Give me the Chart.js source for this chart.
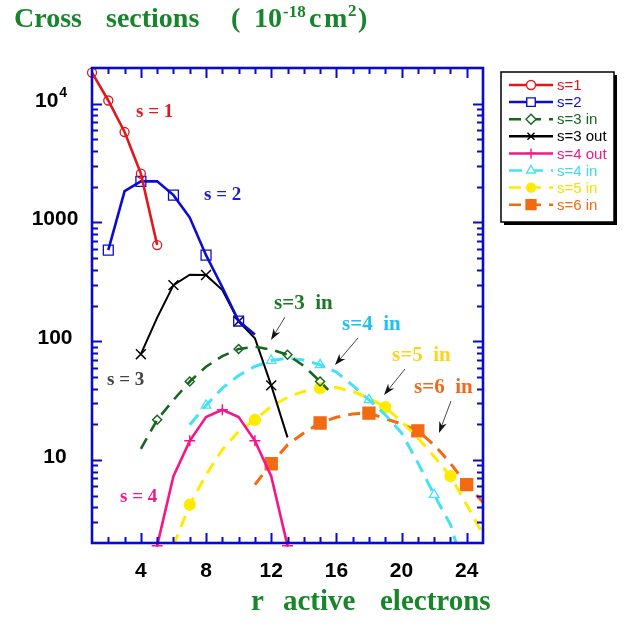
<!DOCTYPE html>
<html>
<head>
<meta charset="utf-8">
<title>Cross sections</title>
<script src="https://cdn.jsdelivr.net/npm/chart.js@4.4.1/dist/chart.umd.min.js"></script>
<style>
    html, body { margin: 0; padding: 0; background: #fff; }
    #chart { display: block; }
</style>
</head>
<body>
<canvas id="chart" width="628" height="630"></canvas>
<script>
// ===== data =====
// r = number of active electrons, values in 10^-18 cm^2
const rS1 = [1, 2, 3, 4, 5];
const valS1 = [18300, 10650, 5780, 2580, 646];
const markS1 = [1, 2, 3, 4, 5];

const rS2 = [2, 3, 4, 5, 6, 7, 8, 9, 10, 11];
const valS2 = [585, 1840, 2220, 2220, 1700, 1100, 531, 285, 148, 114];
const markS2 = [2, 4, 6, 8, 10];

const rS3in = [4, 5, 6, 7, 8, 9, 10, 11, 12, 13, 14, 15, 15.5];
const valS3in = [12.4, 21.8, 32, 45.8, 61, 75, 86, 90, 85, 77, 62, 45.8, 39];
const markS3in = [5, 7, 10, 13, 15];

const rS3out = [4, 5, 6, 7, 8, 9, 10, 11, 12, 13];
const valS3out = [77.8, 158, 297, 363, 361, 270, 147, 106, 42.5, 15.5];
const markS3out = [4, 6, 8, 10, 12];

const rS4out = [5, 6, 7, 8, 9, 10, 11, 12, 13];
const valS4out = [1.9, 7.3, 14.5, 23, 26.5, 23, 14.5, 7.3, 1.9];
const markS4out = [5, 7, 9, 11, 13];

const rS4in = [7, 8, 9, 10, 11, 12, 13, 14, 15, 16, 17, 18, 19, 20, 21, 22, 23, 23.4];
const valS4in = [19.8, 28.8, 40.3, 51.5, 61.3, 68.8, 72, 69.5, 63.3, 55, 42.5, 32.1, 24, 16.9, 9.5, 5.1, 2.86, 1.9];
const markS4in = [8, 12, 15, 18, 22];

const rS5in = [6, 7, 8, 9, 10, 11, 12, 13, 14, 15, 16, 17, 18, 19, 20, 21, 22, 23, 24, 25];
const valS5in = [1.9, 4.2, 7.5, 12.2, 17.4, 21.8, 28.3, 33.7, 37.8, 40.3, 40.8, 37.8, 33.2, 27.9, 21.1, 15.3, 10.7, 7.3, 4.2, 2.36];
const markS5in = [7, 11, 15, 19, 23];

const rS6in = [11, 12, 13, 14, 15, 16, 17, 18, 19, 20, 21, 22, 23, 24, 25];
const valS6in = [6.2, 9.3, 13.4, 16.9, 20.5, 22.9, 24.4, 24.8, 22.3, 20.1, 17.6, 13.4, 9.4, 6.2, 4.4];
const markS6in = [12, 15, 18, 21, 24];

// axes
const xMin = 1, xMax = 25;
const yMin = 2, yMax = 20000;
const xTicks = [4, 8, 12, 16, 20, 24];
const yTicks = [10, 100, 1000, 10000];
const yTickLabels = ['10', '100', '1000', '10'];

const AXIS_BLUE = '#0a0acc';
const TITLE_GREEN = '#17852a';

/**
 * Build one line dataset; markers only where the figure shows them
 */
function series(label, rs, vals, marks, style) {
    return {
        label: label,
        data: rs.map((r, i) => ({ x: r, y: vals[i] })),
        borderColor: style.color,
        borderWidth: style.width || 2.6,
        borderDash: style.dash || [],
        backgroundColor: style.fill || 'rgba(0,0,0,0)',
        pointStyle: style.point,
        pointBorderColor: style.color,
        pointBackgroundColor: style.fill || 'rgba(0,0,0,0)',
        pointBorderWidth: style.pointWidth || 1.3,
        pointRadius: ctx => marks.includes(rs[ctx.dataIndex]) ? style.radius : 0,
        pointHoverRadius: ctx => marks.includes(rs[ctx.dataIndex]) ? style.radius : 0,
        tension: 0,
        fill: false,
        clip: style.clip !== undefined ? style.clip : 0,
        legendText: style.text || style.color
    };
}

const datasets = [
    series('s=1', rS1, valS1, markS1, { color: '#e3161b', point: 'circle', radius: 4.5, clip: 8 }),
    series('s=2', rS2, valS2, markS2, { color: '#0c0cd0', point: 'rect', radius: 7 }),
    series('s=3 in', rS3in, valS3in, markS3in, { color: '#17661f', point: 'rectRot', radius: 4.5, dash: [12, 8], pointWidth: 1.5 }),
    series('s=3 out', rS3out, valS3out, markS3out, { color: '#000000', point: 'crossRot', radius: 7, width: 2, pointWidth: 1.5 }),
    series('s=4 out', rS4out, valS4out, markS4out, { color: '#f5168a', point: 'cross', radius: 5.5, pointWidth: 1.5, clip: { left: 0, top: 0, right: 0, bottom: 4 } }),
    series('s=4 in', rS4in, valS4in, markS4in, { color: '#46e1f5', point: 'triangle', radius: 5.5, dash: [13, 8], width: 3, text: '#3fd8f0' }),
    series('s=5 in', rS5in, valS5in, markS5in, { color: '#ffeb00', point: 'circle', radius: 5.5, dash: [12, 8], width: 3, fill: '#ffeb00', text: '#f8e000' }),
    series('s=6 in', rS6in, valS6in, markS6in, { color: '#f26a12', point: 'rect', radius: 8.5, dash: [12, 8], width: 3, fill: '#f26a12' })
];

// text labels placed on the plot, with arrows for the "in" curves
const curveLabels = [
    { text: 's = 1', x: 136, y: 117, color: '#e3161b', size: 19 },
    { text: 's = 2', x: 204, y: 200, color: '#1a1ad0', size: 19 },
    { text: 's = 3', x: 107, y: 385, color: '#444444', size: 19 },
    { text: 's = 4', x: 120, y: 502, color: '#ee1a88', size: 19 },
    { text: 's=3  in', x: 274, y: 309, color: '#1b7a26', size: 21 },
    { text: 's=4  in', x: 342, y: 330, color: '#1fc2ee', size: 21 },
    { text: 's=5  in', x: 392, y: 361, color: '#ffd21e', size: 21 },
    { text: 's=6  in', x: 414, y: 393, color: '#f06a1e', size: 21 }
];
const arrows = [
    [285, 317, 271, 340],
    [358, 338, 335, 365],
    [405, 369, 384, 395],
    [451, 401, 439, 433]
];

/**
 * Small marker drawer (legend uses it)
 */
function drawMark(ctx, style, x, y, r, stroke, fill) {
    ctx.save();
    ctx.strokeStyle = stroke;
    ctx.fillStyle = fill;
    ctx.lineWidth = 1.4;
    ctx.setLineDash([]);
    ctx.beginPath();
    if (style === 'circle') {
        ctx.arc(x, y, r, 0, Math.PI * 2);
    } else if (style === 'rect') {
        const s = r * Math.SQRT1_2;
        ctx.rect(x - s, y - s, 2 * s, 2 * s);
    } else if (style === 'rectRot') {
        ctx.moveTo(x, y - r); ctx.lineTo(x + r, y); ctx.lineTo(x, y + r); ctx.lineTo(x - r, y); ctx.closePath();
    } else if (style === 'triangle') {
        ctx.moveTo(x, y - r); ctx.lineTo(x + r * 0.87, y + r * 0.5); ctx.lineTo(x - r * 0.87, y + r * 0.5); ctx.closePath();
    } else if (style === 'cross') {
        ctx.moveTo(x - r, y); ctx.lineTo(x + r, y); ctx.moveTo(x, y - r); ctx.lineTo(x, y + r);
    } else if (style === 'crossRot') {
        const s = r * Math.SQRT1_2;
        ctx.moveTo(x - s, y - s); ctx.lineTo(x + s, y + s); ctx.moveTo(x - s, y + s); ctx.lineTo(x + s, y - s);
    }
    if (fill !== 'rgba(0,0,0,0)') ctx.fill();
    ctx.stroke();
    ctx.restore();
}

function drawArrow(ctx, x1, y1, x2, y2) {
    const a = Math.atan2(y2 - y1, x2 - x1);
    ctx.save();
    ctx.strokeStyle = '#333';
    ctx.fillStyle = '#111';
    ctx.lineWidth = 0.9;
    ctx.beginPath();
    ctx.moveTo(x1, y1);
    ctx.lineTo(x2 - Math.cos(a) * 6, y2 - Math.sin(a) * 6);
    ctx.stroke();
    const len = 12, back = 8;
    ctx.beginPath();
    ctx.moveTo(x2, y2);
    ctx.lineTo(x2 - len * Math.cos(a - 0.33), y2 - len * Math.sin(a - 0.33));
    ctx.lineTo(x2 - back * Math.cos(a), y2 - back * Math.sin(a));
    ctx.lineTo(x2 - len * Math.cos(a + 0.33), y2 - len * Math.sin(a + 0.33));
    ctx.closePath();
    ctx.fill();
    ctx.restore();
}

/**
 * Frame, ticks, labels, titles and legend
 */
const decorPlugin = {
    id: 'decor',
    afterDatasetsDraw(chart) {
        const ctx = chart.ctx;
        const area = chart.chartArea;
        const xs = chart.scales.x;
        const ys = chart.scales.y;

        ctx.save();
        // ticks on all four sides, pointing in
        ctx.strokeStyle = AXIS_BLUE;
        ctx.lineWidth = 2;
        ctx.beginPath();
        for (let r = xMin + 1; r < xMax; r++) {
            const px = Math.round(xs.getPixelForValue(r)) + 0.5;
            const len = xTicks.includes(r) ? 10 : 6;
            ctx.moveTo(px, area.bottom); ctx.lineTo(px, area.bottom - len);
            ctx.moveTo(px, area.top); ctx.lineTo(px, area.top + len);
        }
        for (let d = 1; d <= 10000; d *= 10) {
            for (let k = 1; k <= 9; k++) {
                const v = k * d;
                if (v <= yMin || v >= yMax) continue;
                const py = Math.round(ys.getPixelForValue(v)) + 0.5;
                const len = k === 1 ? 10 : 6;
                ctx.moveTo(area.left, py); ctx.lineTo(area.left + len, py);
                ctx.moveTo(area.right, py); ctx.lineTo(area.right - len, py);
            }
        }
        ctx.stroke();

        // frame
        ctx.lineWidth = 2.6;
        ctx.strokeRect(area.left, area.top, area.right - area.left, area.bottom - area.top);

        // tick labels
        ctx.fillStyle = '#000';
        ctx.font = 'bold 21px "Liberation Sans", Arial, sans-serif';
        ctx.textAlign = 'center';
        ctx.textBaseline = 'alphabetic';
        xTicks.forEach(t => {
            ctx.fillText(String(t), xs.getPixelForValue(t), 577);
        });
        yTicks.forEach((t, i) => {
            const py = ys.getPixelForValue(t) + 3;
            if (t === 10000) {
                ctx.textAlign = 'left';
                ctx.font = 'bold 21px "Liberation Sans", Arial, sans-serif';
                ctx.fillText(yTickLabels[i], 35, py);
                const w = ctx.measureText(yTickLabels[i]).width;
                ctx.font = 'bold 14px "Liberation Sans", Arial, sans-serif';
                ctx.fillText('4', 35 + w + 1, py - 10);
                ctx.font = 'bold 21px "Liberation Sans", Arial, sans-serif';
                ctx.textAlign = 'center';
            } else {
                ctx.fillText(yTickLabels[i], 55, py);
            }
        });

        // chart title and axis title
        ctx.fillStyle = TITLE_GREEN;
        ctx.textAlign = 'left';
        const big = 'bold 28px "Liberation Serif", "Times New Roman", serif';
        const sup = 'bold 17px "Liberation Serif", "Times New Roman", serif';
        ctx.font = big;
        ctx.fillText('Cross', 14, 27);
        ctx.fillText('sections', 106, 27);
        ctx.fillText('(', 231, 27);
        ctx.fillText('10', 254, 27);
        ctx.font = sup;
        ctx.fillText('-18', 283, 17);
        ctx.font = big;
        ctx.fillText('c', 309, 27);
        ctx.fillText('m', 324, 27);
        ctx.font = sup;
        ctx.fillText('2', 348, 16);
        ctx.font = big;
        ctx.fillText(')', 358, 27);

        ctx.font = 'bold 29px "Liberation Serif", "Times New Roman", serif';
        ctx.fillText('r', 251, 610);
        ctx.fillText('active', 283, 610);
        ctx.fillText('electrons', 380, 610);

        // curve labels and arrows
        curveLabels.forEach(l => {
            ctx.fillStyle = l.color;
            ctx.font = 'bold ' + l.size + 'px "Liberation Serif", "Times New Roman", serif';
            ctx.fillText(l.text, l.x, l.y);
        });
        arrows.forEach(a => drawArrow(ctx, a[0], a[1], a[2], a[3]));

        // legend box with shadow
        const bx = 501, by = 72, bw = 113, bh = 150;
        ctx.fillStyle = '#000';
        ctx.fillRect(bx + 3, by + 3, bw, bh);
        ctx.fillStyle = '#fff';
        ctx.fillRect(bx, by, bw, bh);
        ctx.strokeStyle = '#000';
        ctx.lineWidth = 1.5;
        ctx.strokeRect(bx, by, bw, bh);

        ctx.font = '15px "Liberation Sans", Arial, sans-serif';
        ctx.textBaseline = 'middle';
        chart.data.datasets.forEach((ds, i) => {
            const y = 85 + i * 17.1;
            ctx.strokeStyle = ds.borderColor;
            ctx.lineWidth = 2.5;
            ctx.setLineDash(ds.borderDash);
            ctx.beginPath();
            ctx.moveTo(509, y);
            ctx.lineTo(553, y);
            ctx.stroke();
            ctx.setLineDash([]);
            const fill = ds.pointBackgroundColor === 'rgba(0,0,0,0)' ? '#fff' : ds.pointBackgroundColor;
            const rr = ds.pointStyle === 'rect' ? (fill === '#fff' ? 6 : 7) : (ds.pointStyle === 'circle' ? 4.5 : 5);
            drawMark(ctx, ds.pointStyle, 531, y, rr, ds.borderColor, fill);
            ctx.fillStyle = ds.legendText;
            ctx.fillText(ds.label, 557, y + 1);
        });
        ctx.restore();
    }
};

new Chart(document.getElementById('chart').getContext('2d'), {
    type: 'line',
    data: { datasets: datasets },
    options: {
        responsive: false,
        devicePixelRatio: 1,
        animation: false,
        layout: { padding: { left: 92, right: 145, top: 68, bottom: 87 } },
        scales: {
            x: { type: 'linear', min: xMin, max: xMax, display: false },
            y: { type: 'logarithmic', min: yMin, max: yMax, display: false }
        },
        plugins: {
            legend: { display: false },
            tooltip: { enabled: false }
        }
    },
    plugins: [decorPlugin]
});
</script>
</body>
</html>
